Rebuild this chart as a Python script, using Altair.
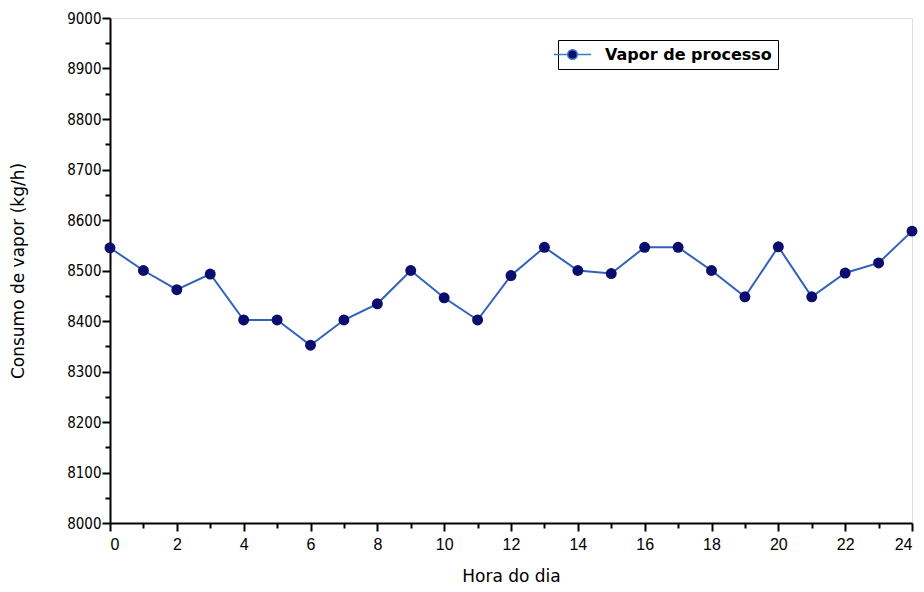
import altair as alt
import pandas as pd

horas = list(range(25))
consumo = [8545, 8500, 8462, 8493, 8402, 8402, 8352, 8402, 8434, 8500,
           8446, 8402, 8490, 8546, 8500, 8494, 8546, 8546, 8500, 8448,
           8547, 8448, 8495, 8515, 8578]
serie = "Vapor de processo"

x_major = list(range(0, 25, 2))
x_minor = list(range(1, 24, 2))
y_major = list(range(8000, 9001, 100))
y_minor = list(range(8050, 9000, 100))

df = pd.DataFrame({"hora": horas, "consumo": consumo, "serie": serie})

xscale = alt.Scale(domain=[0, 24], nice=False, zero=False)
yscale = alt.Scale(domain=[8000, 9000], nice=False, zero=False)

NARROW = "DejaVu Sans Condensed, Liberation Sans Narrow, Liberation Sans"
TITLE_FONT = "DejaVu Sans"

line = alt.Chart(df).mark_line(color="#2f62b8", strokeWidth=2).encode(
    x=alt.X("hora:Q", scale=xscale, axis=alt.Axis(
        values=x_major, title="Hora do dia", orient="bottom", format="d",
        domain=True, domainColor="black", domainWidth=2,
        ticks=True, tickColor="black", tickWidth=2, tickSize=8,
        labelFont="Liberation Sans", labelFontSize=16, labelColor="black", labelPadding=5,
        titleFont=TITLE_FONT, titleFontSize=17, titleFontWeight="normal",
        titleColor="black", titlePadding=16, grid=False)),
    y=alt.Y("consumo:Q", scale=yscale, axis=alt.Axis(
        values=y_major, title="Consumo de vapor (kg/h)", orient="left", format="d",
        domain=True, domainColor="black", domainWidth=2,
        ticks=True, tickColor="black", tickWidth=2, tickSize=8,
        labelFont=NARROW, labelFontSize=15, labelColor="black", labelPadding=1,
        titleFont=TITLE_FONT, titleFontSize=17, titleFontWeight="normal",
        titleColor="black", titlePadding=39, grid=False)),
)

legend_symbol = ("M-2.4,0H-0.62 M0.62,0H2.4 M-0.62,0A0.62,0.62 0 1,1 0.62,0"
                 "A0.62,0.62 0 1,1 -0.62,0Z")

points = alt.Chart(df).mark_point(filled=True, size=120, opacity=1).encode(
    x=alt.X("hora:Q", scale=xscale, axis=alt.Axis(
        values=x_minor, title=None, orient="bottom", labels=False, domain=False,
        ticks=True, tickColor="black", tickWidth=2, tickSize=5, grid=False)),
    y=alt.Y("consumo:Q", scale=yscale, axis=alt.Axis(
        values=y_minor, title=None, orient="left", labels=False, domain=False,
        ticks=True, tickColor="black", tickWidth=2, tickSize=5, grid=False)),
    color=alt.Color("serie:N", scale=alt.Scale(range=["#0b0d6e"]), legend=alt.Legend(
        title=None, orient="none", legendX=448, legendY=22,
        symbolType=legend_symbol, symbolSize=240,
        symbolStrokeColor="#3f78cc", symbolStrokeWidth=1.5,
        labelFont=TITLE_FONT, labelFontSize=16, labelFontWeight="bold",
        labelColor="black", labelOffset=24, labelLimit=400,
        strokeColor="black", padding=6, offset=0)),
)

chart = alt.layer(line, points).resolve_axis(
    x="independent", y="independent"
).properties(
    width=802, height=505,
    autosize="none",
    padding={"left": 110, "top": 18, "right": 12, "bottom": 69},
).configure_view(
    stroke="black", strokeWidth=2
).configure(background="white")

chart.save("out.html", embed_options={"renderer": "svg", "actions": False})
